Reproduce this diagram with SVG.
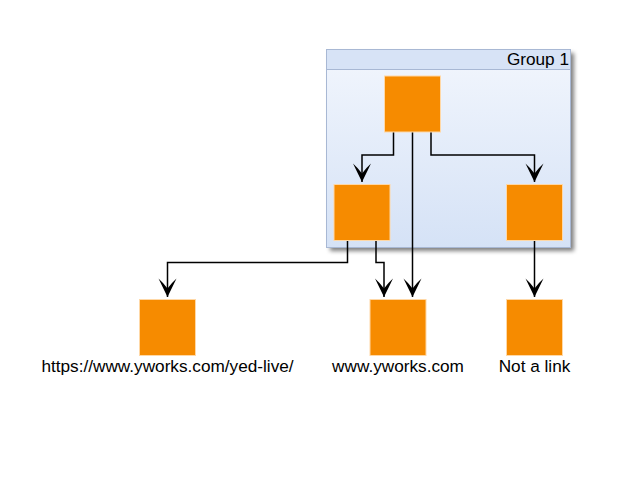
<svg xmlns="http://www.w3.org/2000/svg" width="640" height="480" viewBox="0 0 640 480">
<style>
.node{fill:#f68b00;stroke:#ffd8a6;stroke-width:1}
.edge{fill:none;stroke:#000;stroke-width:1.5}
.lbl{font-family:"Liberation Sans",Arial,sans-serif;font-size:17.2px;fill:#000}
</style>
<defs>
<linearGradient id="gg" x1="0" y1="0" x2="0" y2="1">
<stop offset="0" stop-color="#f2f6fd"/>
<stop offset="1" stop-color="#d5e2f6"/>
</linearGradient>
<filter id="sh" x="-10%" y="-10%" width="130%" height="130%">
<feGaussianBlur stdDeviation="2"/>
</filter>
<marker id="arr" markerUnits="userSpaceOnUse" markerWidth="22" markerHeight="22" viewBox="-20 -11 22 22" refX="0" refY="0" orient="auto">
<path d="M0,0 L-18.5,-9 Q-14,-4 -8.5,0 Q-14,4 -18.5,9 Z" fill="#000"/>
</marker>
</defs>
<g id="group1">
<rect x="330" y="53" width="244" height="198" fill="#000" opacity="0.5" filter="url(#sh)"/>
<rect x="326.5" y="49.5" width="244" height="198" fill="url(#gg)" stroke="#a8b8d4" stroke-width="1"/>
<rect x="327" y="50" width="243" height="19" fill="#d7e3f6"/>
<line x1="327" y1="69.5" x2="570" y2="69.5" stroke="#a8b8d4" stroke-width="1"/>
<text class="lbl" x="569" y="65" text-anchor="end">Group 1</text>
</g>
<g id="edges">
<path class="edge" d="M393.5,132 V155 H362 V182" marker-end="url(#arr)"/>
<path class="edge" d="M431,132 V155 H534.5 V182" marker-end="url(#arr)"/>
<path class="edge" d="M412.5,132 V297" marker-end="url(#arr)"/>
<path class="edge" d="M347.5,240 V262.5 H167.5 V297" marker-end="url(#arr)"/>
<path class="edge" d="M376,240 V262.5 H384 V297" marker-end="url(#arr)"/>
<path class="edge" d="M534.5,240 V297" marker-end="url(#arr)"/>
</g>
<g id="n0"><rect class="node" x="384.5" y="76" width="56" height="56"/></g>
<g id="n1"><rect class="node" x="334" y="184.5" width="56" height="56"/></g>
<g id="n2"><rect class="node" x="506.5" y="184.5" width="56" height="56"/></g>
<g id="n3"><rect class="node" x="139.5" y="299.5" width="56" height="56"/>
<text class="lbl" x="167.5" y="372" text-anchor="middle">https://www.yworks.com/yed-live/</text></g>
<g id="n4"><rect class="node" x="370" y="299.5" width="56" height="56"/>
<text class="lbl" x="398" y="372" text-anchor="middle">www.yworks.com</text></g>
<g id="n5"><rect class="node" x="506.5" y="299.5" width="56" height="56"/>
<text class="lbl" x="534.5" y="372" text-anchor="middle">Not a link</text></g>
</svg>
